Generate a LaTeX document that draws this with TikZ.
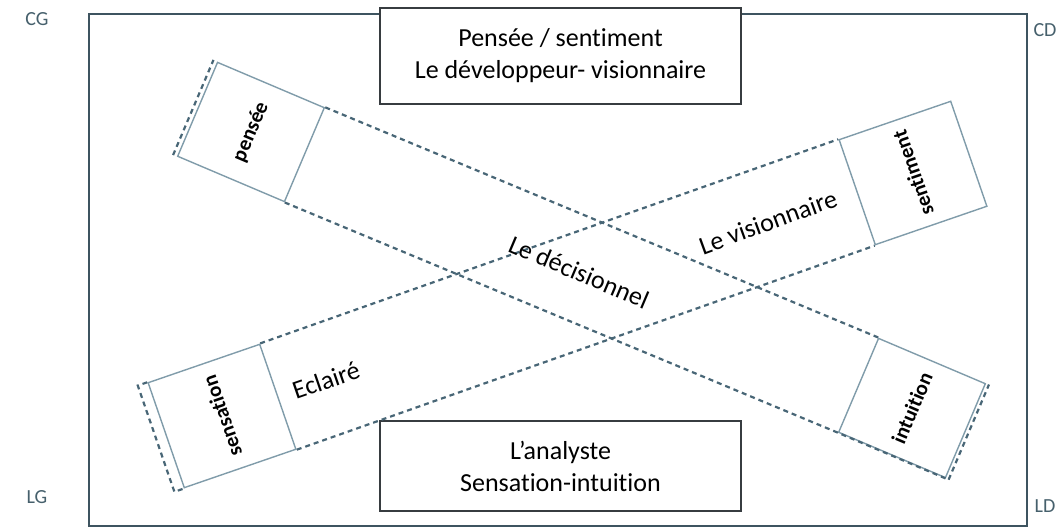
\documentclass[tikz,border=0pt]{standalone}
\usepackage{fontspec}
\setmainfont{Carlito}[Ligatures=NoCommon]
\usetikzlibrary{calc}

\definecolor{framecol}{RGB}{62,84,96}
\definecolor{boxcol}{RGB}{128,156,170}
\definecolor{dashcol}{RGB}{72,102,118}
\definecolor{labcol}{RGB}{70,96,108}
\definecolor{boxdark}{RGB}{55,60,64}

\tikzset{
  tile/.style={draw=boxcol, line width=0.7pt, fill=white, inner sep=0pt,
    font=\fontsize{10.5pt}{12pt}\selectfont\bfseries},
  band/.style={draw=dashcol, line width=1.1pt, dash pattern=on 2.5pt off 2pt},
  typebox/.style={draw=boxdark, line width=0.9pt, minimum width=180.5pt,
    align=center, font=\fontsize{13pt}{16pt}\selectfont},
  bandlabel/.style={font=\fontsize{13pt}{16pt}\selectfont},
  corner/.style={text=labcol, font=\fontsize{10pt}{12pt}\selectfont}
}

\begin{document}
\begin{tikzpicture}[x=0.5pt,y=-0.5pt]
\useasboundingbox (0,0) rectangle (1056,528);
\draw[framecol, line width=1pt] (89,14) rectangle (1027,526);
\node[corner] (cg) at (37,19) {CG};
\node[corner] (lg) at (37,497) {LG};
\node[corner] (cd) at (1045,30) {CD};
\node[corner] (ld) at (1045,506) {LD};

\node[typebox, minimum height=48pt, fill=white] (top) at (560.5,56) {Pensée / sentiment\\Le développeur- visionnaire};
\node[typebox, minimum height=45pt, fill=white] (bottom) at (560.5,466) {L’analyste\\Sensation-intuition};

% the two crossing bands
\node[tile, rotate=67, minimum width=51pt, minimum height=58pt] (pensee) at (251,132) {pensée};
\node[tile, rotate=67, minimum width=51pt, minimum height=58pt] (intuition) at (912,408) {intuition};
\node[tile, rotate=109, minimum width=55.5pt, minimum height=59pt] (sensation) at (222,416) {sensation};
\node[tile, rotate=109, minimum width=55.5pt, minimum height=59pt] (sentiment) at (913,173) {sentiment};

\draw[band] (pensee.south east) -- (intuition.north east);
\draw[band] (pensee.south west) -- (intuition.north west) -- (intuition.south west);
\draw[band] (sensation.south east) -- (sentiment.north east);
\draw[band] (sensation.south west) -- (sentiment.north west);

% offset edges
\draw[band] ($(pensee.north west)!-2pt!(pensee.south west)$) -- ($(pensee.north east)!-2pt!(pensee.south east)$);
\draw[band] ($(intuition.south west)!-1.5pt!(intuition.north west)$) -- ($(intuition.south east)!-1.5pt!(intuition.north east)$);
\draw[band] (sensation.north east) -- ($(sensation.north east)!-5pt!(sensation.south east)$)
  -- ($(sensation.north west)!-5pt!(sensation.south west)$) -- (sensation.north west);

\node[bandlabel, rotate=-23] (decision) at (579,272) {Le décisionnel};
\node[bandlabel, rotate=20] (vision) at (768,222) {Le visionnaire};
\node[bandlabel, rotate=19] (eclaire) at (326,380) {Eclairé};
\end{tikzpicture}
\end{document}
